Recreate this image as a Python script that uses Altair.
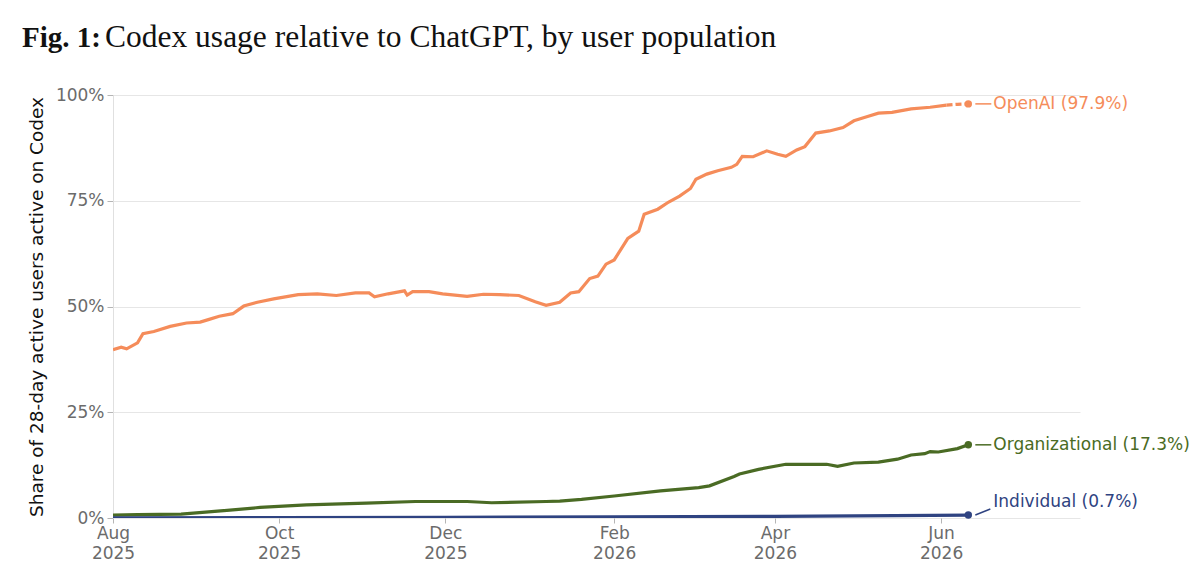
import altair as alt
import pandas as pd

# ---------------- data ----------------
series_names = ["OpenAI", "Organizational", "Individual"]
series_colors = ["#f58c5a", "#4a6b24", "#2f4381"]

openai_dates = [
    "2025-08-01", "2025-08-04", "2025-08-06", "2025-08-10", "2025-08-12", "2025-08-16",
    "2025-08-22", "2025-08-28", "2025-09-02", "2025-09-05", "2025-09-09", "2025-09-14",
    "2025-09-18", "2025-09-23", "2025-09-29", "2025-10-08", "2025-10-15", "2025-10-22",
    "2025-10-29", "2025-11-03", "2025-11-05", "2025-11-10", "2025-11-16", "2025-11-17",
    "2025-11-19", "2025-11-25", "2025-11-30", "2025-12-09", "2025-12-15", "2025-12-21",
    "2025-12-28", "2026-01-03", "2026-01-07", "2026-01-12", "2026-01-16", "2026-01-19",
    "2026-01-23", "2026-01-26", "2026-01-29", "2026-02-01", "2026-02-06", "2026-02-10",
    "2026-02-12", "2026-02-17", "2026-02-21", "2026-02-25", "2026-03-01", "2026-03-03",
    "2026-03-07", "2026-03-11", "2026-03-16", "2026-03-18", "2026-03-20", "2026-03-24",
    "2026-03-29", "2026-04-02", "2026-04-05", "2026-04-09", "2026-04-12", "2026-04-16",
    "2026-04-21", "2026-04-26", "2026-04-30", "2026-05-05", "2026-05-09", "2026-05-14",
    "2026-05-21", "2026-05-28", "2026-06-03",
]
openai_vals = [
    39.8, 40.4, 40.0, 41.4, 43.6, 44.1,
    45.3, 46.1, 46.3, 46.9, 47.7, 48.3,
    50.1, 51.0, 51.8, 52.8, 53.0, 52.6,
    53.2, 53.2, 52.3, 53.0, 53.7, 52.7,
    53.5, 53.5, 53.0, 52.4, 52.9, 52.8,
    52.6, 51.1, 50.3, 51.0, 53.2, 53.5,
    56.6, 57.2, 60.0, 61.0, 66.1, 67.8,
    71.8, 73.0, 74.7, 76.1, 77.9, 80.1,
    81.3, 82.1, 82.9, 83.6, 85.5, 85.4,
    86.8, 86.0, 85.5, 87.0, 87.8, 91.0,
    91.5, 92.3, 93.9, 94.9, 95.7, 95.9,
    96.7, 97.1, 97.6,
]
# most recent (incomplete) stretch, drawn dashed
openai_tail_dates = ["2026-06-03", "2026-06-07", "2026-06-11"]
openai_tail_vals = [97.6, 97.8, 97.9]

org_dates = [
    "2025-08-01", "2025-08-10", "2025-08-26", "2025-09-14", "2025-09-24", "2025-10-11",
    "2025-11-02", "2025-11-20", "2025-12-09", "2025-12-18", "2026-01-07", "2026-01-12",
    "2026-01-20", "2026-02-01", "2026-02-18", "2026-03-04", "2026-03-08", "2026-03-17",
    "2026-03-19", "2026-03-26", "2026-04-05", "2026-04-20", "2026-04-24", "2026-04-30",
    "2026-05-09", "2026-05-16", "2026-05-21", "2026-05-26", "2026-05-28", "2026-05-31",
    "2026-06-07", "2026-06-11",
]
org_vals = [
    0.7, 0.8, 0.9, 1.9, 2.5, 3.1,
    3.5, 3.9, 3.9, 3.6, 3.9, 4.0,
    4.4, 5.2, 6.4, 7.2, 7.6, 9.8,
    10.4, 11.5, 12.7, 12.7, 12.2, 13.0,
    13.2, 13.9, 14.9, 15.2, 15.7, 15.6,
    16.4, 17.3,
]

ind_dates = ["2025-08-01", "2025-10-01", "2025-12-01", "2026-02-01", "2026-04-01",
             "2026-05-15", "2026-06-11"]
ind_vals = [0.05, 0.1, 0.15, 0.25, 0.4, 0.55, 0.7]

x_tick_dates = [(2025, 8), (2025, 10), (2025, 12), (2026, 2), (2026, 4), (2026, 6)]
y_tick_vals = [0, 0.25, 0.5, 0.75, 1.0]

title_bold = "Fig. 1:"
title_rest = "Codex usage relative to ChatGPT, by user population"
y_title = "Share of 28-day active users active on Codex"

# ---------------- tables ----------------
rows = []
for name, ds, vs in [("OpenAI", openai_dates, openai_vals),
                     ("Organizational", org_dates, org_vals),
                     ("Individual", ind_dates, ind_vals)]:
    for d, v in zip(ds, vs):
        rows.append({"date": d, "value": v / 100, "series": name})
df = pd.DataFrame(rows)

tail = pd.DataFrame({"date": openai_tail_dates,
                     "value": [v / 100 for v in openai_tail_vals],
                     "series": "OpenAI"})

last_rows = [
    {"date": openai_tail_dates[-1], "value": openai_tail_vals[-1] / 100, "series": "OpenAI",
     "label": f"OpenAI ({openai_tail_vals[-1]:.1f}%)"},
    {"date": org_dates[-1], "value": org_vals[-1] / 100, "series": "Organizational",
     "label": f"Organizational ({org_vals[-1]:.1f}%)"},
    {"date": ind_dates[-1], "value": ind_vals[-1] / 100, "series": "Individual",
     "label": f"Individual ({ind_vals[-1]:.1f}%)"},
]
last = pd.DataFrame(last_rows)
last_hi = last[last.series != "Individual"]
last_lo = last[last.series == "Individual"]

color = alt.Color("series:N", scale=alt.Scale(domain=series_names, range=series_colors),
                  legend=None)

x_enc = alt.X(
    "date:T",
    scale=alt.Scale(type="utc",
                    domain=[alt.DateTime(year=2025, month=8, date=1, utc=True),
                            alt.DateTime(year=2026, month=7, date=22, utc=True)]),
    axis=alt.Axis(
        title=None,
        values=[alt.DateTime(year=y, month=m, date=1, utc=True) for y, m in x_tick_dates],
        labelExpr="[utcFormat(datum.value, '%b'), utcFormat(datum.value, '%Y')]",
        labelLineHeight=20,
        grid=False, domain=False, tickSize=5, labelPadding=2,
        labelAlign="center", labelBaseline="top",
    ),
)
y_enc = alt.Y(
    "value:Q",
    scale=alt.Scale(domain=[0, 1], nice=False, zero=True),
    axis=alt.Axis(values=y_tick_vals, format=".0%", title=y_title,
                  grid=True, domain=True, tickSize=6, labelPadding=3, titlePadding=9),
)

lines = alt.Chart(df).mark_line(strokeWidth=3.2, clip=True).encode(
    x=x_enc, y=y_enc, color=color, detail="series:N")

tail_line = alt.Chart(tail).mark_line(strokeWidth=3.2, strokeDash=[6, 3]).encode(
    x="date:T", y="value:Q", color=color)

dots = alt.Chart(last).mark_circle(size=55, opacity=1).encode(
    x="date:T", y="value:Q", color=color)

conn_hi = alt.Chart(last_hi).mark_rule(strokeWidth=1.5, xOffset=7, x2Offset=23).encode(
    x="date:T", x2="date:T", y="value:Q", y2="value:Q", color=color)
conn_lo = alt.Chart(last_lo).mark_rule(strokeWidth=1.5, xOffset=7, x2Offset=22,
                                       y2Offset=-6).encode(
    x="date:T", x2="date:T", y="value:Q", y2="value:Q", color=color)

lab_hi = alt.Chart(last_hi).mark_text(align="left", baseline="middle", dx=25,
                                      font="DejaVu Sans", fontSize=17).encode(
    x="date:T", y="value:Q", text="label:N", color=color)
lab_lo = alt.Chart(last_lo).mark_text(align="left", baseline="middle", dx=25, dy=-13,
                                      font="DejaVu Sans", fontSize=17).encode(
    x="date:T", y="value:Q", text="label:N", color=color)

t1 = alt.Chart(pd.DataFrame({"t": [title_bold]})).mark_text(
    align="left", baseline="alphabetic", font="Liberation Serif", fontSize=29,
    fontWeight="bold", color="#111").encode(
    x=alt.value(-91), y=alt.value(-48), text="t:N")
t2 = alt.Chart(pd.DataFrame({"t": [title_rest]})).mark_text(
    align="left", baseline="alphabetic", font="Liberation Serif", fontSize=31.5,
    color="#111").encode(
    x=alt.value(-8), y=alt.value(-48), text="t:N")

chart = alt.layer(lines, tail_line, dots, conn_hi, conn_lo, lab_hi, lab_lo, t1, t2).properties(
    width=967, height=423,
    autosize=alt.AutoSizeParams(type="none"),
    padding={"left": 105, "top": 87, "right": 112, "bottom": 53},
).configure_view(stroke=None).configure_axis(
    labelFont="DejaVu Sans", labelFontSize=17, labelColor="#6b6b6b",
    titleFont="DejaVu Sans", titleFontSize=18.5, titleColor="#111", titleFontWeight="normal",
    gridColor="#e6e6e6", gridWidth=1, tickColor="#b5b5b5", domainColor="#e0e0e0",
)

chart.save("out.html", embed_options={"renderer": "svg", "actions": False})
